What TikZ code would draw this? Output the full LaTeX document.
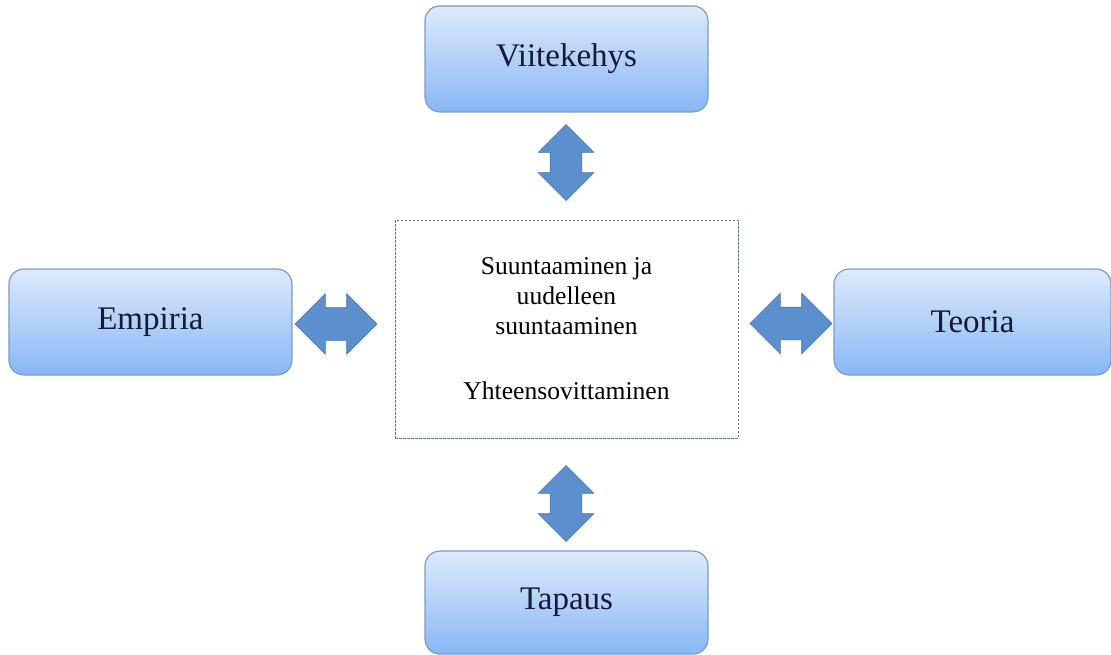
\documentclass[tikz,border=0pt]{standalone}
\usepackage{fontspec}
\setmainfont{Liberation Serif}
\usetikzlibrary{positioning, shapes.arrows}

\definecolor{boxtop}{RGB}{222,234,252}
\definecolor{boxbot}{RGB}{136,183,245}
\definecolor{boxline}{RGB}{125,155,195}
\definecolor{coreline}{RGB}{100,118,145}
\definecolor{arrowfill}{RGB}{91,143,206}
\definecolor{arrowline}{RGB}{72,116,176}
\definecolor{labeltext}{RGB}{22,26,52}

\begin{document}
\begin{tikzpicture}[x=1pt,y=-1pt]
  \tikzset{
    topic/.style={rectangle, rounded corners=15pt, draw=boxline, line width=1.2pt,
      top color=boxtop, bottom color=boxbot, minimum width=283pt, minimum height=106pt,
      text=labeltext, font=\fontsize{33}{38}\selectfont},
    core/.style={rectangle, draw=coreline, dash pattern=on 2.5pt off 1.5pt, line width=0.9pt,
      minimum width=343pt, minimum height=218pt, align=center,
      font=\fontsize{25.6}{30}\selectfont},
    linkarrow/.style={double arrow, fill=arrowfill, draw=arrowline, line width=0.6pt,
      inner xsep=0pt, inner ysep=16pt, minimum height=82pt, double arrow head extend=14pt},
    uparrow/.style={linkarrow, rotate=90, inner ysep=15.5pt, minimum height=76pt,
      double arrow head extend=12pt}
  }
  \useasboundingbox (0,0) rectangle (1111,655);

  \node[core] (core) at (566.5,329)
    {Suuntaaminen ja\\uudelleen\\suuntaaminen\\[35pt]Yhteensovittaminen};
  \node[topic] (frame)   [above=107pt of core] {Viitekehys};
  \node[topic, minimum height=103pt] (case) [below=112pt of core] {Tapaus};
  \node[topic] (empiria) [left=102pt of core, yshift=7pt] {Empiria};
  \node[topic, minimum width=277pt] (theory) [right=95pt of core, yshift=7pt] {Teoria};

  \node[uparrow]   (frame-core)   at (566,162.5) {};
  \node[uparrow]   (core-case)    at (566,503.5) {};
  \node[linkarrow] (empiria-core) at (336,324) {};
  \node[linkarrow] (core-theory)  at (791,323.5) {};
\end{tikzpicture}
\end{document}
